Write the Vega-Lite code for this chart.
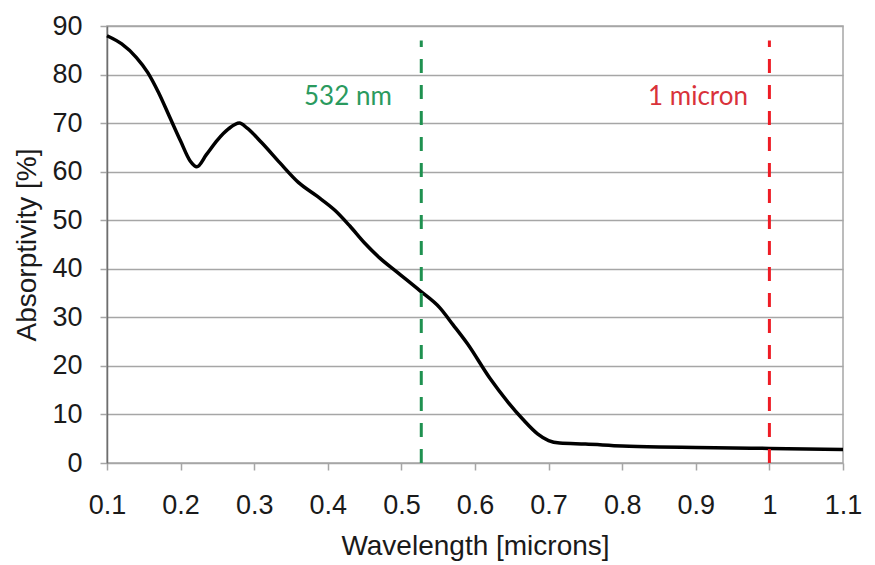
{
  "$schema": "https://vega.github.io/schema/vega-lite/v6.json",
  "width": 736,
  "height": 437,
  "autosize": {"type": "none"},
  "padding": {"left": 107, "top": 26, "right": 32, "bottom": 102},
  "background": "white",
  "config": {
    "view": {"stroke": "#a6a6a6", "strokeWidth": 1.5},
    "axis": {
      "labelFont": "Liberation Sans",
      "labelFontSize": 27,
      "labelColor": "#1a1a1a",
      "titleFont": "Liberation Sans",
      "titleFontSize": 28,
      "titleFontWeight": "normal",
      "titleColor": "#1a1a1a",
      "tickColor": "#a6a6a6",
      "tickSize": 7,
      "tickWidth": 1.5,
      "labelFlush": false,
      "labelOverlap": false
    }
  },
  "datasets": {
    "curve": [
      {"w": 0.1, "a": 88},
      {"w": 0.12, "a": 86.3},
      {"w": 0.14, "a": 83.5},
      {"w": 0.155, "a": 80.5},
      {"w": 0.17, "a": 76.3},
      {"w": 0.185, "a": 71.3},
      {"w": 0.2, "a": 66.3},
      {"w": 0.213, "a": 62.2},
      {"w": 0.222, "a": 61},
      {"w": 0.235, "a": 63.5},
      {"w": 0.25, "a": 66.5},
      {"w": 0.265, "a": 68.8},
      {"w": 0.28, "a": 70},
      {"w": 0.29, "a": 69},
      {"w": 0.31, "a": 66},
      {"w": 0.335, "a": 61.8},
      {"w": 0.36, "a": 57.8},
      {"w": 0.385, "a": 55},
      {"w": 0.41, "a": 52},
      {"w": 0.43, "a": 48.8},
      {"w": 0.45, "a": 45.3},
      {"w": 0.47, "a": 42.3},
      {"w": 0.495, "a": 39.2},
      {"w": 0.525, "a": 35.5},
      {"w": 0.552, "a": 32},
      {"w": 0.57, "a": 28.5},
      {"w": 0.59, "a": 24.5},
      {"w": 0.62, "a": 17.5},
      {"w": 0.645, "a": 12.5},
      {"w": 0.665, "a": 9},
      {"w": 0.685, "a": 6},
      {"w": 0.7, "a": 4.6},
      {"w": 0.715, "a": 4.1},
      {"w": 0.75, "a": 3.9},
      {"w": 0.8, "a": 3.5},
      {"w": 0.85, "a": 3.3},
      {"w": 0.9, "a": 3.2},
      {"w": 0.95, "a": 3.1},
      {"w": 1.0, "a": 3.0},
      {"w": 1.05, "a": 2.9},
      {"w": 1.1, "a": 2.8}
    ],
    "markers": [
      {"marker": "532 nm", "w": 0.527, "a": 0, "a2": 87},
      {"marker": "1 micron", "w": 1.0, "a": 0, "a2": 87}
    ],
    "labels": [
      {"marker": "532 nm", "w": 0.487, "a": 75.3},
      {"marker": "1 micron", "w": 0.971, "a": 75.3}
    ]
  },
  "layer": [
    {
      "data": {"name": "curve"},
      "mark": {"type": "line", "color": "black", "strokeWidth": 3.5, "interpolate": "monotone"},
      "encoding": {
        "x": {
          "field": "w", "type": "quantitative",
          "scale": {"domain": [0.1, 1.1], "nice": false, "zero": false},
          "axis": {
            "title": "Wavelength [microns]",
            "values": [0.1, 0.2, 0.3, 0.4, 0.5, 0.6, 0.7, 0.8, 0.9, 1, 1.1],
            "format": "~g",
            "grid": false,
            "domain": false,
            "labelPadding": 22,
            "titlePadding": 14
          }
        },
        "y": {
          "field": "a", "type": "quantitative",
          "scale": {"domain": [0, 90], "nice": false},
          "axis": {
            "title": "Absorptivity [%]",
            "values": [0, 10, 20, 30, 40, 50, 60, 70, 80, 90],
            "grid": true,
            "gridColor": "#a6a6a6",
            "gridWidth": 1.5,
            "domain": true,
            "domainColor": "#6e6e6e",
            "domainWidth": 1.5,
            "labelPadding": 18,
            "titlePadding": 10
          }
        }
      }
    },
    {
      "data": {"name": "markers"},
      "mark": {"type": "rule", "strokeWidth": 3, "strokeDash": [14, 12]},
      "encoding": {
        "x": {"field": "w", "type": "quantitative"},
        "y": {"field": "a", "type": "quantitative"},
        "y2": {"field": "a2"},
        "color": {
          "field": "marker", "type": "nominal",
          "scale": {"domain": ["532 nm", "1 micron"], "range": ["#1f9150", "#ee1c25"]},
          "legend": null
        }
      }
    },
    {
      "data": {"name": "labels"},
      "mark": {"type": "text", "font": "Lato", "fontSize": 26, "align": "right", "baseline": "middle"},
      "encoding": {
        "x": {"field": "w", "type": "quantitative"},
        "y": {"field": "a", "type": "quantitative"},
        "text": {"field": "marker"},
        "color": {
          "field": "marker", "type": "nominal",
          "scale": {"domain": ["532 nm", "1 micron"], "range": ["#2a9a5e", "#d9323a"]},
          "legend": null
        }
      }
    }
  ],
  "resolve": {"scale": {"color": "independent"}}
}
